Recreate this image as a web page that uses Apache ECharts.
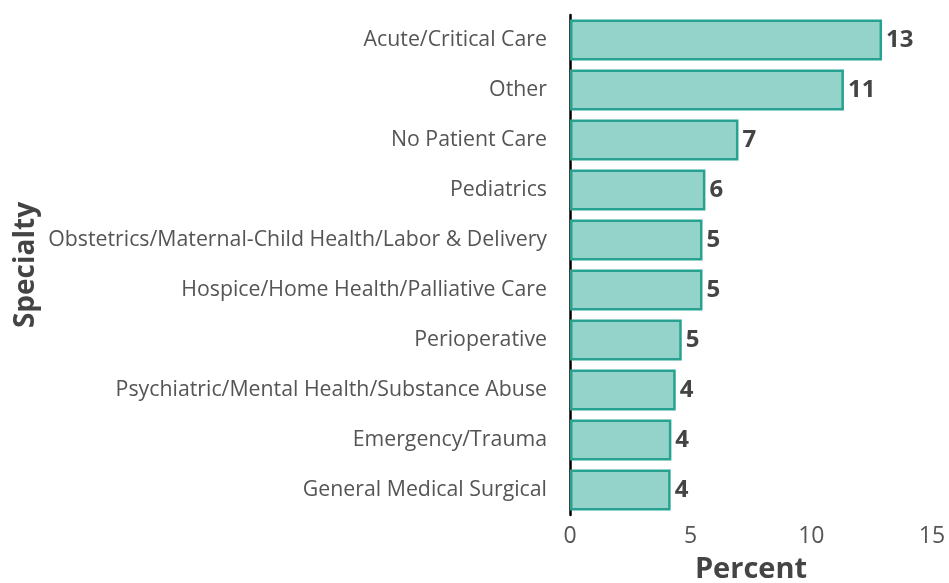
<!DOCTYPE html>
<html>
<head>
<meta charset="utf-8">
<script src="https://cdn.jsdelivr.net/npm/echarts@6/dist/echarts.min.js"></script>
<style>
  html, body { margin: 0; padding: 0; background: #fff; }
  #chart { width: 949px; height: 583px; }
</style>
</head>
<body>
<div id="chart"></div>
<script>
// specialties, top to bottom
const specialties = [
  "Acute/Critical Care",
  "Other",
  "No Patient Care",
  "Pediatrics",
  "Obstetrics/Maternal-Child Health/Labor & Delivery",
  "Hospice/Home Health/Palliative Care",
  "Perioperative",
  "Psychiatric/Mental Health/Substance Abuse",
  "Emergency/Trauma",
  "General Medical Surgical"
];
const percents = [12.93, 11.35, 6.98, 5.61, 5.49, 5.49, 4.63, 4.38, 4.2, 4.17];
const xTicks = [0, 5, 10, 15];

const myChart = echarts.init(document.getElementById("chart"));

const option = {
  animation: false,
  textStyle: { fontFamily: "Open Sans" },
  grid: {
    left: 570,
    right: 17,
    top: 15,
    bottom: 68,
    containLabel: false,
    outerBoundsMode: "none"
  },
  xAxis: {
    type: "value",
    min: xTicks[0],
    max: xTicks[xTicks.length - 1],
    interval: 5,
    name: "Percent",
    nameLocation: "middle",
    nameGap: 40,
    nameTextStyle: { fontSize: 29, fontWeight: "bold", color: "#444" },
    axisLine: { show: false },
    axisTick: { show: false },
    splitLine: { show: false },
    axisLabel: { fontSize: 23, color: "#555", margin: 10 }
  },
  yAxis: {
    type: "category",
    inverse: true,
    data: specialties,
    name: "Specialty",
    nameLocation: "middle",
    nameGap: 530,
    nameRotate: 90,
    nameTextStyle: { fontSize: 28, fontWeight: "bold", color: "#444" },
    axisLine: { show: true, lineStyle: { color: "#000", width: 2.5 } },
    axisTick: { show: false },
    axisLabel: { fontSize: 21.3, color: "#555", margin: 23 }
  },
  series: [
    {
      type: "bar",
      data: percents,
      barWidth: "82%",
      itemStyle: {
        color: "#94d3c9",
        borderColor: "#27a290",
        borderWidth: 2.5
      },
      label: {
        show: true,
        position: "right",
        distance: 4,
        fontSize: 24,
        fontWeight: "bold",
        color: "#444",
        formatter: (p) => Math.round(p.value)
      }
    }
  ]
};

myChart.setOption(option);
window.addEventListener("resize", () => myChart.resize());
</script>
</body>
</html>
